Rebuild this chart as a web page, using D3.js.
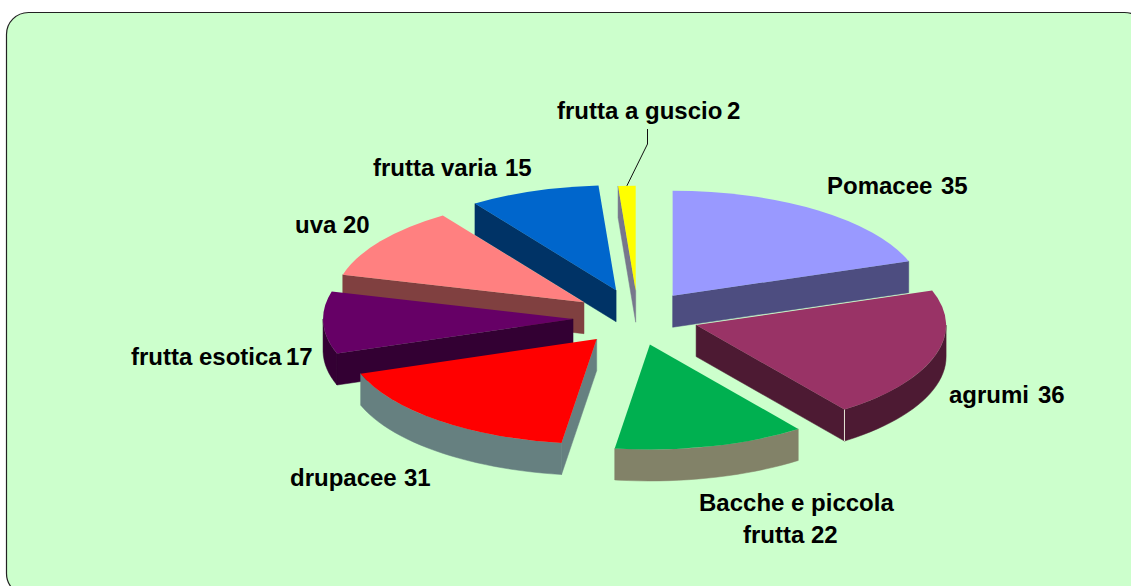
<!DOCTYPE html>
<html>
<head>
<meta charset="utf-8">
<script src="https://cdn.jsdelivr.net/npm/d3@7"></script>
<style>
  html, body { margin: 0; padding: 0; background: #fff; overflow: hidden; }
  svg { display: block; }
  text { font-family: "Liberation Sans", Arial, sans-serif; font-weight: 700; font-size: 24px; fill: #000; }
</style>
</head>
<body>
<script>
const categories = ["Pomacee", "agrumi", "Bacche e piccola frutta", "drupacee", "frutta esotica", "uva", "frutta varia", "frutta a guscio"];
const values = [35, 36, 22, 31, 17, 20, 15, 2];
const topColors = ["#9999ff", "#993366", "#00b050", "#ff0000", "#660066", "#ff8080", "#0066cc", "#ffff00"];
const wallColors = ["#4d4d80", "#4d1a33", "#828268", "#668080", "#330033", "#804040", "#003366", "#77778c"];

// labels are hand placed, same as the original chart
const labelLines = [
  [{text: "Pomacee", x: 827, y: 194}, {text: "35", x: 941, y: 194}],
  [{text: "agrumi", x: 949, y: 403}, {text: "36", x: 1038, y: 403}],
  [{text: "Bacche e piccola", x: 699, y: 511}, {text: "frutta 22", x: 743, y: 543}],
  [{text: "drupacee", x: 290, y: 486}, {text: "31", x: 404, y: 486}],
  [{text: "frutta esotica", x: 131, y: 365}, {text: "17", x: 286, y: 365}],
  [{text: "uva 20", x: 295, y: 233}],
  [{text: "frutta varia", x: 373, y: 176}, {text: "15", x: 505, y: 176}],
  [{text: "frutta a guscio", x: 557, y: 119}, {text: "2", x: 727, y: 119}]
];

const width = 1131;
const height = 586;
const cx = 635;
const cy = 318;
const radius = 250;
const explode = 65;
const tilt = 0.42;
const depth = 31.5;
// small per slice shift in pixels, the original explosion is not quite even
const nudgeX = [0, -1, -1, 3, 3, 2, 2.5, 3];
const nudgeY = [0, -1, 0, 0, 0, 0, -2, 0];

const svg = d3.select("body").append("svg")
  .attr("width", width)
  .attr("height", height);

svg.append("rect")
  .attr("x", 6.5)
  .attr("y", 12.5)
  .attr("width", 1140)
  .attr("height", 583)
  .attr("rx", 22)
  .attr("fill", "#ccffcc")
  .attr("stroke", "#222")
  .attr("stroke-width", 1.2);

const pie = d3.pie().sort(null).value((d) => d)(values);
const arc = d3.arc().innerRadius(0).outerRadius(radius);
const offsetArc = d3.arc().innerRadius(explode).outerRadius(explode);

const slices = pie.map((d, i) => {
  const [ox, oy] = offsetArc.centroid(d);
  return {...d, i, ax: cx + ox + nudgeX[i], ay: cy + oy * tilt + nudgeY[i]};
}).sort((a, b) => d3.ascending(a.ay, b.ay));

// plane point (slice space) to screen
const project = (s, r, angle, drop = 0) => [
  s.ax + r * Math.sin(angle),
  s.ay - r * Math.cos(angle) * tilt + drop
];
const line = d3.line();

function edgeWall(s, angle) {
  return line([
    project(s, 0, angle),
    project(s, radius, angle),
    project(s, radius, angle, depth),
    project(s, 0, angle, depth)
  ]) + "Z";
}

function outerWall(s) {
  const a0 = Math.max(s.startAngle, Math.PI / 2);
  const a1 = Math.min(s.endAngle, Math.PI * 1.5);
  if (a1 <= a0) return null;
  const steps = d3.range(a0, a1, 0.04).concat([a1]);
  return line([
    ...steps.map((a) => project(s, radius, a)),
    ...steps.slice().reverse().map((a) => project(s, radius, a, depth))
  ]) + "Z";
}

for (const s of slices) {
  const g = svg.append("g");
  const wall = wallColors[s.i];
  const paths = [];
  if (Math.sin(s.startAngle) < 0) paths.push(edgeWall(s, s.startAngle));
  if (Math.sin(s.endAngle) > 0) paths.push(edgeWall(s, s.endAngle));
  const outer = outerWall(s);
  if (outer) paths.push(outer);
  g.selectAll("path.wall")
    .data(paths)
    .join("path")
    .attr("class", "wall")
    .attr("d", (d) => d)
    .attr("fill", wall)
    .attr("stroke", wall)
    .attr("stroke-width", 0.5);

  g.append("path")
    .attr("transform", `translate(${s.ax},${s.ay}) scale(1,${tilt})`)
    .attr("d", arc(s))
    .attr("fill", topColors[s.i]);

  if (categories[s.i] === "agrumi") {
    const [sx, sy] = project(s, radius, s.endAngle);
    g.append("line")
      .attr("x1", sx).attr("y1", sy)
      .attr("x2", sx).attr("y2", sy + depth)
      .attr("stroke", "#e8e8d8")
      .attr("stroke-width", 1);
  }
}

// leader for the small slice
const small = slices.find((s) => categories[s.i] === "frutta a guscio");
const leaderEnd = project(small, radius, (small.startAngle + small.endAngle) / 2);
svg.append("path")
  .attr("d", line([[647.5, 129], [647.5, 144], leaderEnd]))
  .attr("fill", "none")
  .attr("stroke", "#111")
  .attr("stroke-width", 1);

svg.append("g")
  .selectAll("text")
  .data(labelLines.flat())
  .join("text")
  .attr("x", (d) => d.x)
  .attr("y", (d) => d.y)
  .text((d) => d.text);
</script>
</body>
</html>
